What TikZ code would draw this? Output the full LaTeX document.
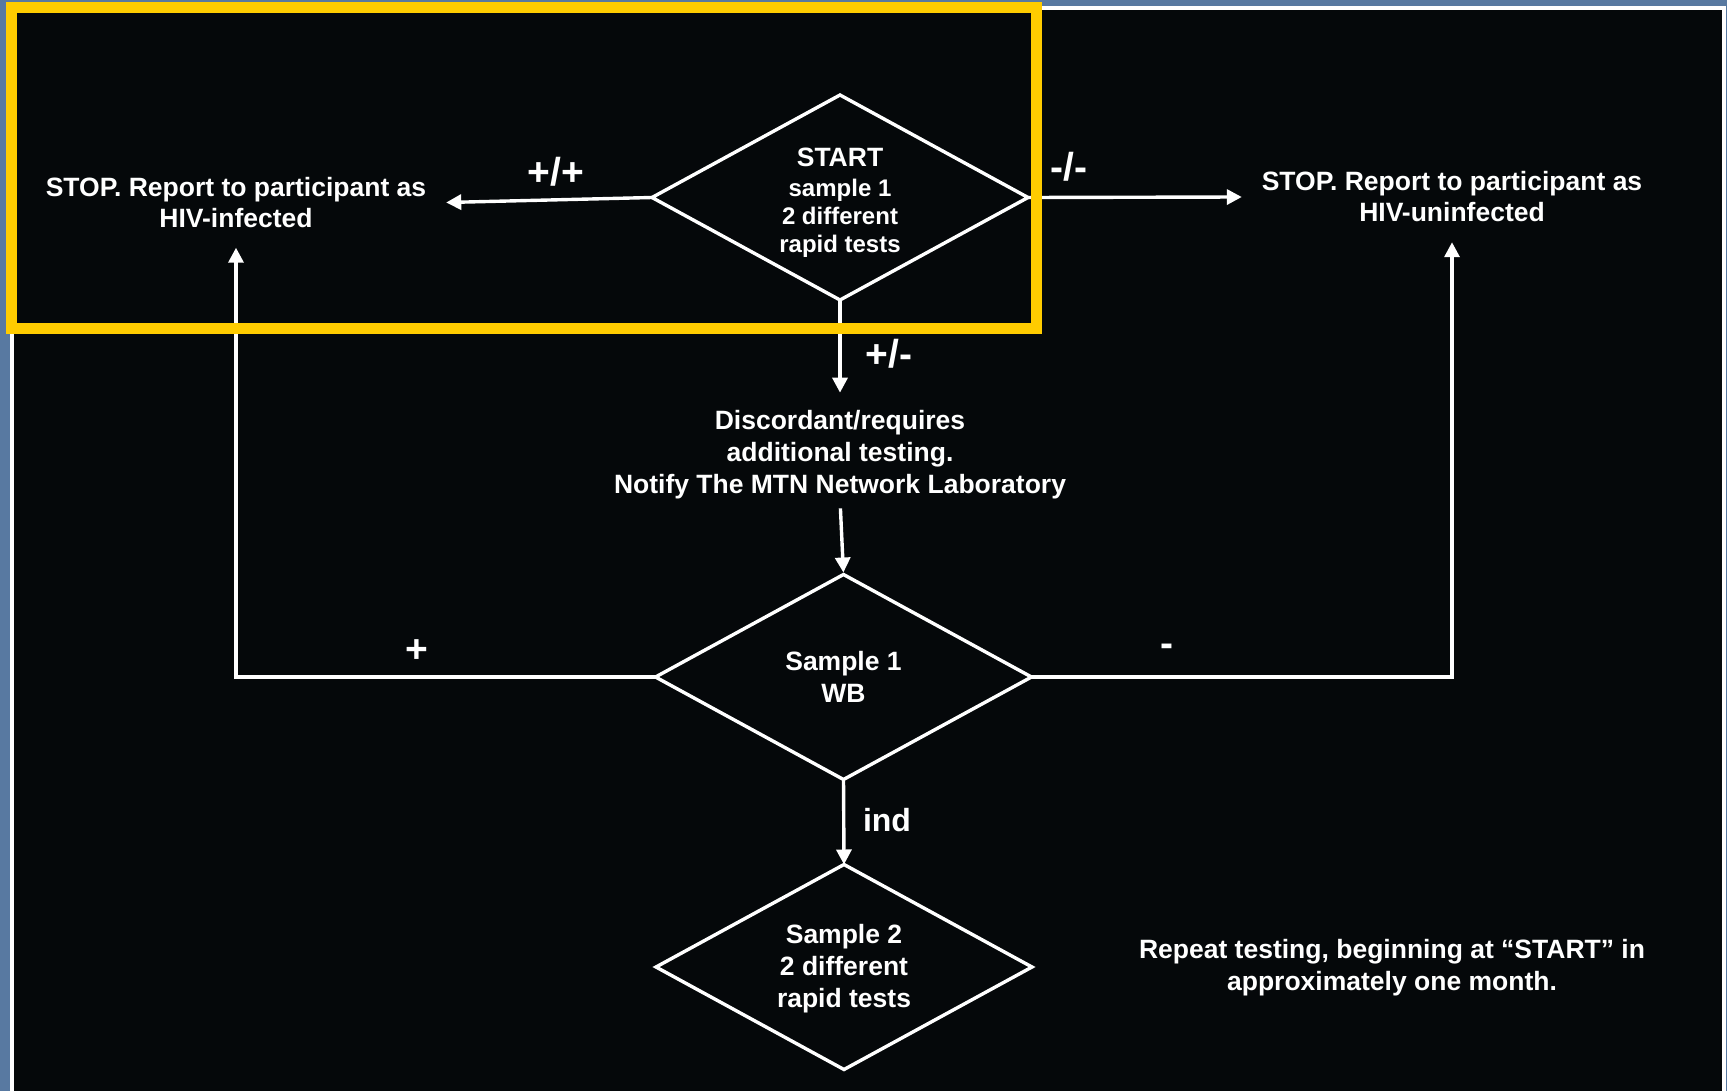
\documentclass[tikz,border=0pt]{standalone}
\usepackage{fontspec}
\setmainfont{Liberation Sans}
\usetikzlibrary{arrows.meta}
\definecolor{bgblue}{RGB}{88,121,161}
\definecolor{panel}{RGB}{5,8,10}
\definecolor{frameyellow}{RGB}{255,204,0}
\begin{document}
\begin{tikzpicture}[x=0.5pt,y=-0.5pt,
  txt/.style={text=white,font=\bfseries\fontsize{13.25pt}{16pt}\selectfont,align=center,inner sep=0pt,outer sep=0pt},
  stoptxt/.style={text=white,font=\bfseries\fontsize{13.25pt}{15.5pt}\selectfont,align=center,inner sep=0pt,outer sep=10pt},
  lbl/.style={text=white,font=\bfseries\fontsize{19.5pt}{21pt}\selectfont,inner sep=0pt},
  diabox/.style={rectangle,minimum width=188pt,minimum height=102.5pt,inner sep=0pt,outer sep=0pt,align=center,text=white},
  dialine/.style={draw=white,line width=1.7pt,line join=miter},
  conn/.style={draw=white,line width=1.7pt,-{Triangle[length=7.5pt,width=7.5pt]}},
]
\fill[bgblue] (0,0) rectangle (1727,1091);
\fill[white] (10,6) rectangle (1726,1091);
\fill[panel] (14,10) rectangle (1722,1091);
\useasboundingbox (0,0) rectangle (1727,1091);

% diamonds (d1 and d3 text sit a little below the diamond centre)
\node[diabox,font=\bfseries\fontsize{12pt}{14pt}\selectfont] (d1) at (840,202.5)
  {{\fontsize{13.25pt}{14pt}\selectfont START}\\[1pt]sample 1\\2 different\\rapid tests};
\node[diabox,font=\bfseries\fontsize{13.25pt}{16pt}\selectfont] (d2) at (843.5,677) {Sample 1\\WB};
\node[diabox,font=\bfseries\fontsize{13.25pt}{16pt}\selectfont] (d3) at (844,969) {Sample 2\\2 different\\rapid tests};
\draw[dialine] ([yshift=2.5pt]d1.north) -- ([yshift=2.5pt]d1.east) -- ([yshift=2.5pt]d1.south) -- ([yshift=2.5pt]d1.west) -- cycle;
\draw[dialine] (d2.north) -- (d2.east) -- (d2.south) -- (d2.west) -- cycle;
\draw[dialine] ([yshift=1pt]d3.north) -- ([yshift=1pt]d3.east) -- ([yshift=1pt]d3.south) -- ([yshift=1pt]d3.west) -- cycle;

% text nodes
\node[stoptxt] (stopL) at (236,202.5) {STOP. Report to participant as\\HIV-infected};
\node[stoptxt] (stopR) at (1452,197) {STOP. Report to participant as\\HIV-uninfected};
\node[txt] (disc) at (840,455) {Discordant/requires\\additional testing.\\Notify The MTN Network Laboratory};
\node[txt] (rep) at (1392,968) {Repeat testing, beginning at “START” in\\approximately one month.};

% connectors
\draw[conn] ([yshift=2.5pt]d1.west) -- (stopL.east);
\draw[conn] ([yshift=2.5pt]d1.east) -- (stopR.west);
\draw[conn,shorten >=9pt] ([yshift=2.5pt]d1.south) -- (disc.north);
\draw[conn,shorten <=4.5pt,shorten >=1pt] (disc.south) -- (d2.north);
\draw[conn] (d2.west) -| (stopL.south);
\draw[conn] (d2.east) -| (stopR.south);
\draw[conn] (d2.south) -- ([yshift=1pt]d3.north);

% labels
\node[lbl] (lpp) at (556,172) {+/+};
\node[lbl] (lmm) at (1069,167) {-/-};
\node[lbl] (lpm) at (889,354) {+/-};
\node[lbl] (lp) at (417,651) {+};
\node[lbl] (lm) at (1167,650) {-};
\node[lbl,font=\bfseries\fontsize{16pt}{18pt}\selectfont] (lind) at (887,820) {ind};

% highlight frame
\draw[frameyellow,line width=5.5pt] (11.5,8) rectangle (1036,328);
\end{tikzpicture}
\end{document}
